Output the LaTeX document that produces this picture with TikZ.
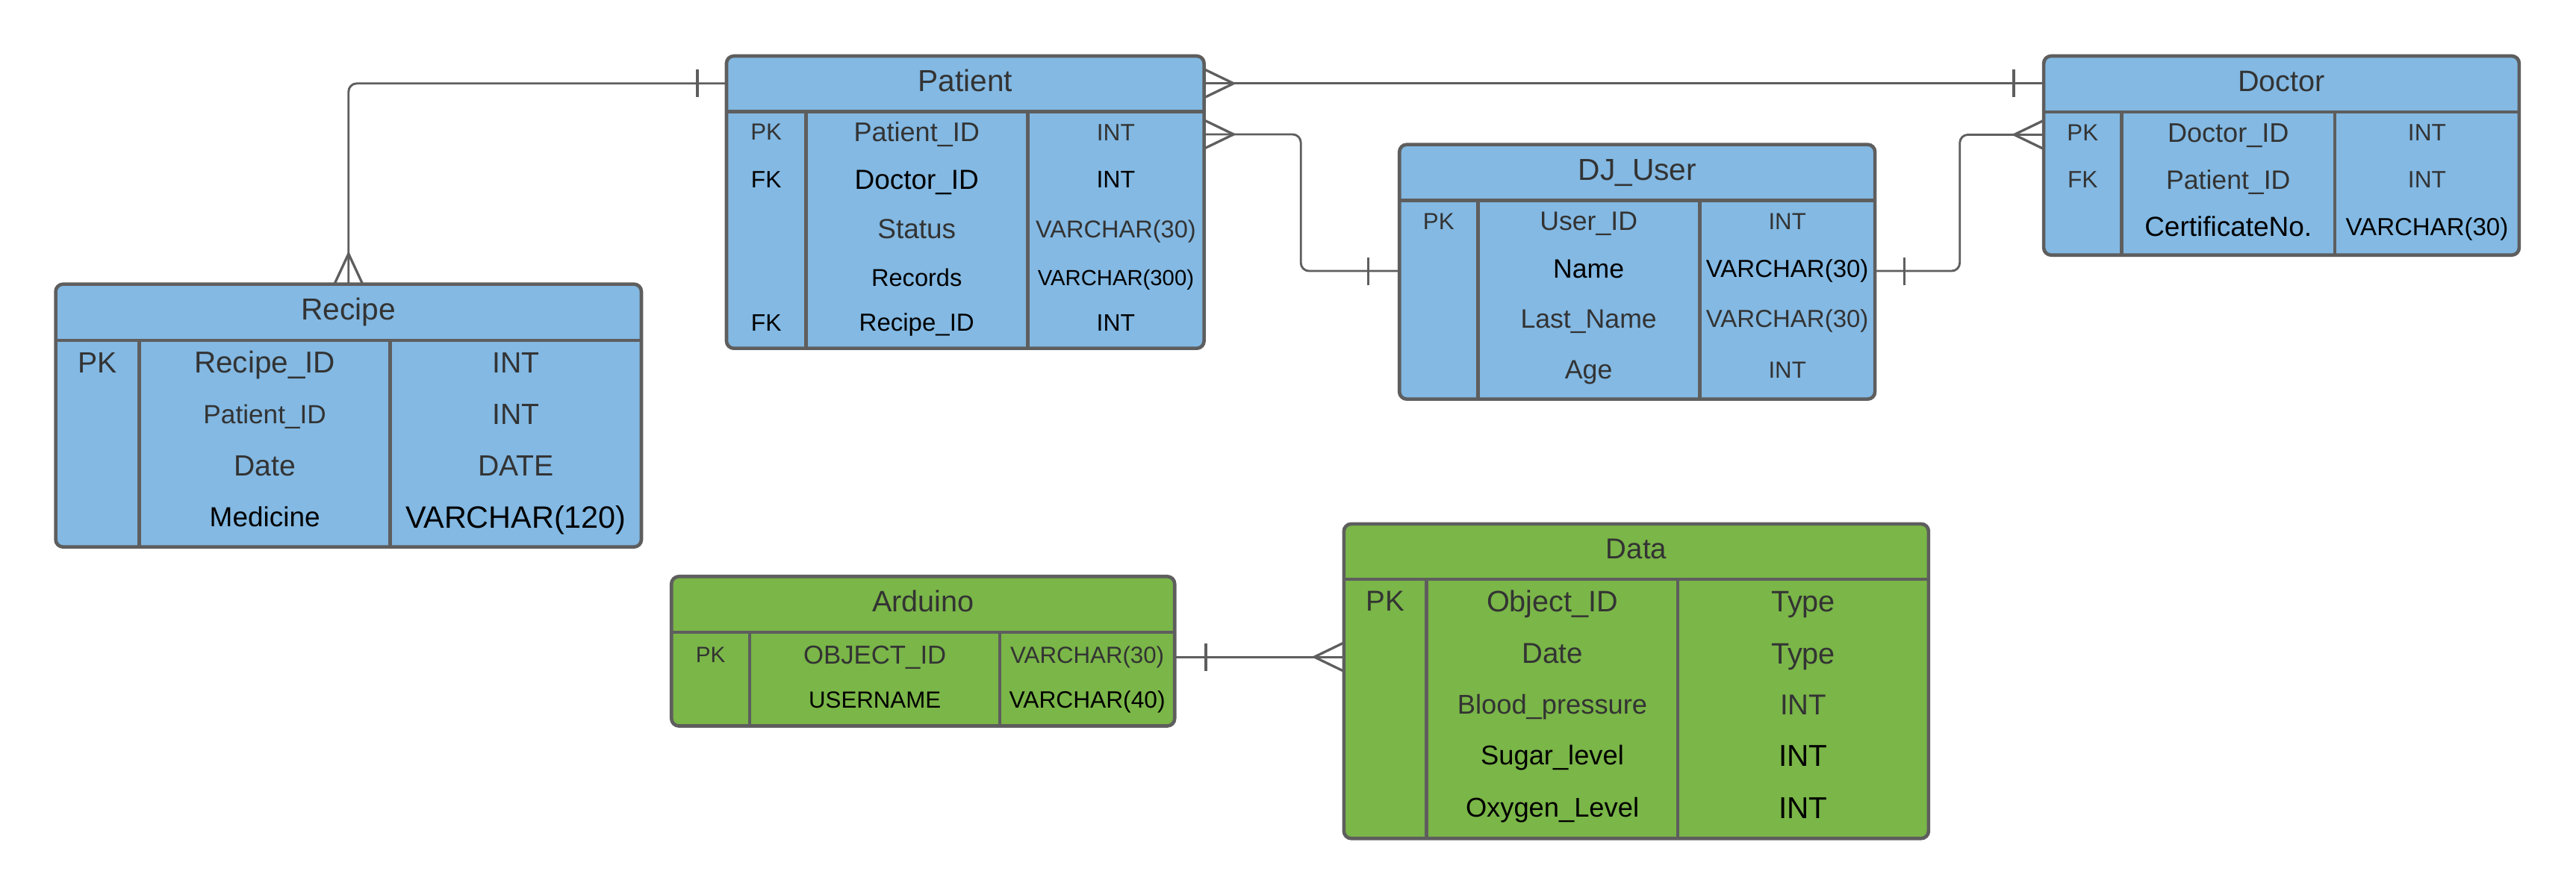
\documentclass[tikz,border=0pt]{standalone}
\usepackage{fontspec}
\setmainfont{Liberation Sans}
\usetikzlibrary{calc}
\definecolor{bord}{HTML}{5E5E5E}
\definecolor{bluef}{HTML}{83B9E3}
\definecolor{greenf}{HTML}{7AB648}
\definecolor{txg}{HTML}{333333}
\tikzset{
  box/.style={draw=bord, line width=2.1pt, rounded corners=4.5pt, outer sep=0pt, inner sep=0pt},
  grid/.style={draw=bord, line width=2.1pt},
  conn/.style={draw=bord, line width=1.3pt, rounded corners=5pt},
  mk/.style={draw=bord, line width=1.5pt},
}
% name, x, y(center), size, colour, text
\newcommand\mycell[6]{\node[inner sep=0pt, anchor=base, text=#5, font=\fontsize{#4pt}{#4pt}\selectfont] (#1) at (#2,#3+0.358*#4) {#6};}
% name, x1, y1, x2, y2, fill, header y, col1 x, col2 x
\newcommand\mytable[9]{%
  \node[box, fill=#6, minimum width={#4-#2}, minimum height={#5-#3}, anchor=north west] (#1) at (#2,#3) {};
  \draw[grid] (#2,#7) -- (#4,#7) (#8,#7) -- (#8,#5) (#9,#7) -- (#9,#5);
}
\newcommand\crowR[1]{\draw[mk] ($(#1)+(0,-8.7)$) -- ($(#1)+(18,0)$) -- ($(#1)+(0,8.7)$);}
\newcommand\crowL[1]{\draw[mk] ($(#1)+(0,-8.7)$) -- ($(#1)+(-18,0)$) -- ($(#1)+(0,8.7)$);}
\newcommand\crowU[1]{\draw[mk] ($(#1)+(-8.6,0)$) -- ($(#1)+(0,-18.5)$) -- ($(#1)+(8.6,0)$);}
\newcommand\barV[2]{\draw[mk] ($(#1)+(#2,-8.4)$) -- ($(#1)+(#2,8.4)$);}
\begin{document}
\begin{tikzpicture}[x=1pt,y=-1pt]
\fill[white] (0,0) rectangle (1568,544.5);
\useasboundingbox (0,0) rectangle (1568,544.5);

% ---------- tables ----------
\mytable{patient}{442.2}{34.1}{732.9}{212.1}{bluef}{67.9}{490.5}{625.5}
\mytable{recipe}{33.9}{173}{390.4}{333}{bluef}{207.3}{84.8}{237.6}
\mytable{doctor}{1244}{34.1}{1533.4}{155.3}{bluef}{68.2}{1291.4}{1421.1}
\mytable{djuser}{851.8}{88}{1141.3}{243}{bluef}{122}{899.6}{1034.5}
\mytable{arduino}{408.7}{351}{715}{442}{greenf}{385}{456.3}{608.6}
\mytable{data}{818}{319}{1173.9}{510.5}{greenf}{352.7}{868.4}{1021.3}

% ---------- Patient ----------
\mycell{pT}{587.6}{49}{18.5}{txg}{Patient}
\mycell{p11}{466.4}{80.3}{14.2}{txg}{PK}
\mycell{p12}{558}{80.3}{16.4}{txg}{Patient\_ID}
\mycell{p13}{679.2}{80.3}{14.4}{txg}{INT}
\mycell{p21}{466.4}{109}{14.4}{black}{FK}
\mycell{p22}{558}{109}{16.8}{black}{Doctor\_ID}
\mycell{p23}{679.2}{109}{14.6}{black}{INT}
\mycell{p32}{558}{139.4}{16.8}{txg}{Status}
\mycell{p33}{679.2}{139.4}{14.8}{txg}{VARCHAR(30)}
\mycell{p42}{558}{169}{14.8}{black}{Records}
\mycell{p43}{679.2}{169}{13.3}{black}{VARCHAR(300)}
\mycell{p51}{466.4}{196.2}{14.5}{black}{FK}
\mycell{p52}{558}{196.2}{15}{black}{Recipe\_ID}
\mycell{p53}{679.2}{196.2}{14.5}{black}{INT}

% ---------- Recipe ----------
\mycell{rT}{212.2}{188.2}{18.5}{txg}{Recipe}
\mycell{r11}{59.4}{220.5}{17.8}{txg}{PK}
\mycell{r12}{161.2}{220.5}{18.4}{txg}{Recipe\_ID}
\mycell{r13}{314}{220.5}{17.8}{txg}{INT}
\mycell{r22}{161.2}{252.1}{16}{txg}{Patient\_ID}
\mycell{r23}{314}{252.1}{17.8}{txg}{INT}
\mycell{r32}{161.2}{283.5}{17.8}{txg}{Date}
\mycell{r33}{314}{283.5}{17.8}{txg}{DATE}
\mycell{r42}{161.2}{314.6}{16.8}{black}{Medicine}
\mycell{r43}{314}{314.6}{18.8}{black}{VARCHAR(120)}

% ---------- Doctor ----------
\mycell{dT}{1388.7}{49.2}{18}{txg}{Doctor}
\mycell{d11}{1267.7}{80.5}{14.2}{txg}{PK}
\mycell{d12}{1356.3}{80.5}{16.4}{txg}{Doctor\_ID}
\mycell{d13}{1477.3}{80.5}{14.4}{txg}{INT}
\mycell{d21}{1267.7}{109.2}{14.4}{txg}{FK}
\mycell{d22}{1356.3}{109.2}{16.2}{txg}{Patient\_ID}
\mycell{d23}{1477.3}{109.2}{14.4}{txg}{INT}
\mycell{d32}{1356.3}{138}{16.8}{black}{CertificateNo.}
\mycell{d33}{1477.3}{138}{15}{black}{VARCHAR(30)}

% ---------- DJ_User ----------
\mycell{uT}{996.6}{103}{18.5}{txg}{DJ\_User}
\mycell{u11}{875.7}{134.5}{14.2}{txg}{PK}
\mycell{u12}{967}{134.5}{16.2}{txg}{User\_ID}
\mycell{u13}{1087.9}{134.5}{14.2}{txg}{INT}
\mycell{u22}{967}{163.6}{16.2}{black}{Name}
\mycell{u23}{1087.9}{163.6}{15}{black}{VARCHAR(30)}
\mycell{u32}{967}{194}{16.2}{txg}{Last\_Name}
\mycell{u33}{1087.9}{194}{15}{txg}{VARCHAR(30)}
\mycell{u42}{967}{225}{16.2}{txg}{Age}
\mycell{u43}{1087.9}{225}{14.2}{txg}{INT}

% ---------- Arduino ----------
\mycell{aT}{561.9}{366}{18}{txg}{Arduino}
\mycell{a11}{432.5}{398.5}{13.5}{txg}{PK}
\mycell{a12}{532.5}{398.5}{15.8}{txg}{OBJECT\_ID}
\mycell{a13}{661.8}{398.5}{14.2}{txg}{VARCHAR(30)}
\mycell{a22}{532.5}{425.8}{14.2}{black}{USERNAME}
\mycell{a23}{661.8}{425.8}{14.4}{black}{VARCHAR(40)}

% ---------- Data ----------
\mycell{tT}{996}{333.9}{17.5}{txg}{Data}
\mycell{t11}{843.2}{365.9}{17.5}{txg}{PK}
\mycell{t12}{944.9}{365.9}{18}{txg}{Object\_ID}
\mycell{t13}{1097.6}{365.9}{18}{txg}{Type}
\mycell{t22}{944.9}{397.7}{17.5}{txg}{Date}
\mycell{t23}{1097.6}{397.7}{18}{txg}{Type}
\mycell{t32}{944.9}{428.8}{16.5}{txg}{Blood\_pressure}
\mycell{t33}{1097.6}{428.8}{17.5}{txg}{INT}
\mycell{t42}{944.9}{459.8}{16.5}{black}{Sugar\_level}
\mycell{t43}{1097.6}{459.8}{18.4}{black}{INT}
\mycell{t52}{944.9}{491.7}{16.5}{black}{Oxygen\_Level}
\mycell{t53}{1097.6}{491.7}{18.4}{black}{INT}

% ---------- connector levels ----------
\coordinate (pH) at (587.6,50.8);
\coordinate (pR) at (587.6,81.8);
\coordinate (uR) at (996.6,165);
\coordinate (dR) at (1388.7,82);
\coordinate (aR) at (561.9,400);
\coordinate (vx1) at (791.8,0);
\coordinate (vx2) at (1192.9,0);

\coordinate (e1a) at (patient.west |- pH);
\coordinate (e2a) at (patient.east |- pH);
\coordinate (e2b) at (doctor.west |- pH);
\coordinate (e3a) at (patient.east |- pR);
\coordinate (e3b) at (djuser.west |- uR);
\coordinate (e4a) at (djuser.east |- uR);
\coordinate (e4b) at (doctor.west |- dR);
\coordinate (e5a) at (arduino.east |- aR);
\coordinate (e5b) at (data.west |- aR);

% ---------- connectors ----------
\draw[conn] (e1a) -| (recipe.north);
\draw[conn] (e2a) -- (e2b);
\draw[conn] (e3a) -- (vx1 |- e3a) -- (vx1 |- e3b) -- (e3b);
\draw[conn] (e4a) -- (vx2 |- e4a) -- (vx2 |- e4b) -- (e4b);
\draw[conn] (e5a) -- (e5b);

% ---------- cardinality marks ----------
\barV{e1a}{-17.7}
\crowU{recipe.north}
\crowR{e2a}
\barV{e2b}{-18.2}
\crowR{e3a}
\barV{e3b}{-19}
\barV{e4a}{18}
\crowL{e4b}
\barV{e5a}{19}
\crowL{e5b}
\end{tikzpicture}
\end{document}
